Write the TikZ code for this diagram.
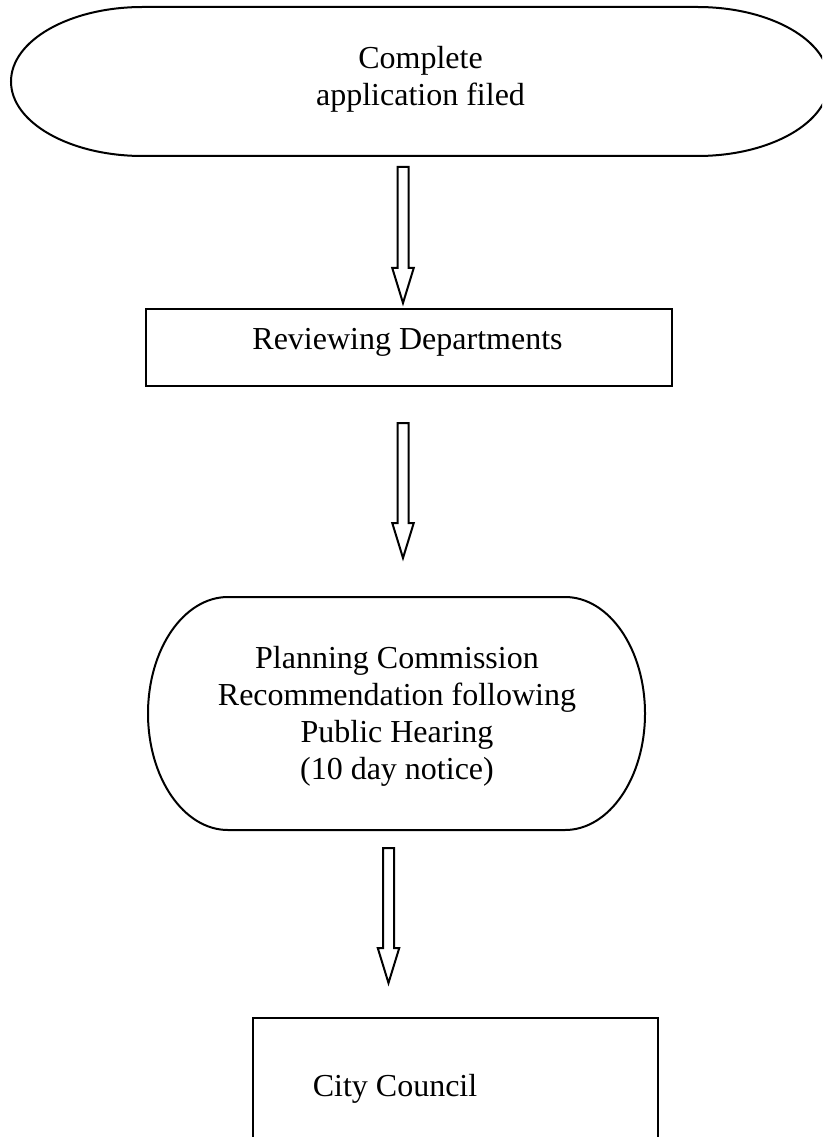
\documentclass[tikz,border=0pt]{standalone}
\usepackage{fontspec}
\setmainfont{Liberation Serif}
\usetikzlibrary{calc}
\newcommand\pxlen[1]{#1*0.375pt}
\tikzset{
  shapeline/.style={draw=black, line width=0.75pt},
  boxshape/.style={shapeline, rectangle, inner sep=0pt, outer sep=0pt},
  termshape/.style={rectangle, draw=none, inner sep=0pt, outer sep=0pt},
  flowtext/.style={font=\fontsize{12pt}{13.8pt}\selectfont, align=center, inner sep=0pt},
  blockarrow/.style={shapeline, line join=miter, to path={
    ($(\tikztostart)+(-5.5,0)$) -- ($(\tikztotarget)+(-5.5,-35)$) -- ($(\tikztotarget)+(-10.75,-35)$)
    -- (\tikztotarget) -- ($(\tikztotarget)+(10.75,-35)$) -- ($(\tikztotarget)+(5.5,-35)$)
    -- ($(\tikztostart)+(5.5,0)$) -- cycle}}
}
\newcommand\terminatoroutline[1]{%
  \draw[shapeline] let \p1=(#1.north west), \p2=(#1.south east),
    \n1={0.1609*(\x2-\x1)}, \n2={0.5*(\y1-\y2)},
    \n3={0.4477*\n1}, \n4={0.4477*\n2} in
    ({\x1+\n1*1pt},\y1) -- ({\x2-\n1*1pt},\y1)
    .. controls ({\x2-\n3*1pt},\y1) and (\x2,{\y1-\n4*1pt}) .. (\x2,{\y1-\n2*1pt})
    .. controls (\x2,{\y2+\n4*1pt}) and ({\x2-\n3*1pt},\y2) .. ({\x2-\n1*1pt},\y2)
    -- ({\x1+\n1*1pt},\y2)
    .. controls ({\x1+\n3*1pt},\y2) and (\x1,{\y2+\n4*1pt}) .. (\x1,{\y2+\n2*1pt})
    .. controls (\x1,{\y1-\n4*1pt}) and ({\x1+\n3*1pt},\y1) .. cycle;}
\begin{document}
\begin{tikzpicture}[x=0.375pt,y=-0.375pt]
\useasboundingbox (0,0) rectangle (822,1137);
\fill[white] (0,0) rectangle (822,1137);
\clip (0,0) rectangle (822,1137);

% shapes
\node[termshape, minimum width=\pxlen{818}, minimum height=\pxlen{149}] (start) at (420,81.5) {};
\terminatoroutline{start}
\node[flowtext] (starttext) at (420.5,79) {Complete\\application filed};

\node[boxshape, minimum width=\pxlen{526}, minimum height=\pxlen{77}] (review) at (408.5,347.5) {};
\node[flowtext] (reviewtext) at (407.5,342) {Reviewing Departments};

\node[termshape, minimum width=\pxlen{497}, minimum height=\pxlen{233}] (planning) at (396.5,713.5) {};
\terminatoroutline{planning}
\node[flowtext] (planningtext) at (397,716.5) {Planning Commission\\Recommendation following\\Public Hearing\\(10 day notice)};

\node[boxshape, minimum width=\pxlen{405}, minimum height=\pxlen{142}] (council) at (455.5,1089) {};
\node[flowtext] (counciltext) at (395,1088.5) {City Council};

% block arrows
\coordinate (a1top) at (403,167);
\coordinate (a1tip) at (403,303);
\coordinate (a2top) at (403,423);
\coordinate (a2tip) at (403,558);
\coordinate (a3top) at (388.5,848);
\coordinate (a3tip) at (388.5,983);
\draw[blockarrow] (a1top) to (a1tip);
\draw[blockarrow] (a2top) to (a2tip);
\draw[blockarrow] (a3top) to (a3tip);
\end{tikzpicture}
\end{document}
